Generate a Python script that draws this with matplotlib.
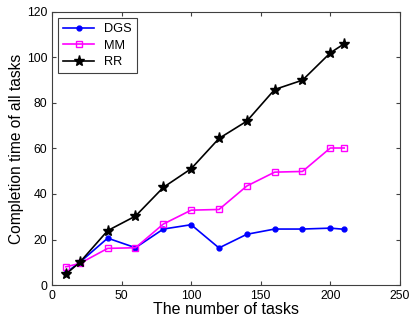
import matplotlib.pyplot as plt

plt.rcParams['font.family'] = ['Liberation Sans', 'DejaVu Sans']

# data
tasks = [10, 20, 40, 60, 80, 100, 120, 140, 160, 180, 200, 210]
dgs = [5.4, 10, 20.6, 16.4, 24.6, 26.5, 16.3, 22.3, 24.6, 24.6, 25, 24.5]
mm = [8, 9.5, 16.1, 16.4, 26.8, 32.9, 33.2, 43.5, 49.6, 49.9, 60.2, 60.2]
rr = [4.8, 10, 23.9, 30.3, 42.9, 51.1, 64.4, 72, 85.9, 90, 102, 106]

fig = plt.figure(figsize=(4.11, 3.21), dpi=100)
ax = fig.add_axes([0.1265, 0.112, 0.8465, 0.851])

ax.plot(tasks, dgs, color='#0000ff', marker='o', markersize=3.5, linewidth=1.2, label='DGS')
ax.plot(tasks, mm, color='#ff00ff', marker='s', markersize=5, markerfacecolor='none',
        markeredgewidth=1, linewidth=1.2, label='MM')
ax.plot(tasks, rr, color='black', marker='*', markersize=8, linewidth=1.2, label='RR')

ax.set_xlim(0, 250)
ax.set_ylim(0, 120)
ax.set_xticks(range(0, 251, 50))
ax.set_yticks(range(0, 121, 20))
ax.tick_params(direction='in', top=True, right=True, labelsize=8.8, length=3, color='#404040')
for s in ax.spines.values():
    s.set_color('#404040')
    s.set_linewidth(0.8)

ax.set_xlabel('The number of tasks', fontsize=11.5, labelpad=0)
ax.set_ylabel('Completion time of all tasks', fontsize=11.2, labelpad=2)

leg = ax.legend(loc='upper left', fontsize=9.2, fancybox=False, framealpha=1,
                edgecolor='#404040', borderaxespad=0.5, handlelength=2.4,
                labelspacing=0.35)
leg.get_frame().set_linewidth(0.8)

fig.savefig('out.png', dpi=100)
